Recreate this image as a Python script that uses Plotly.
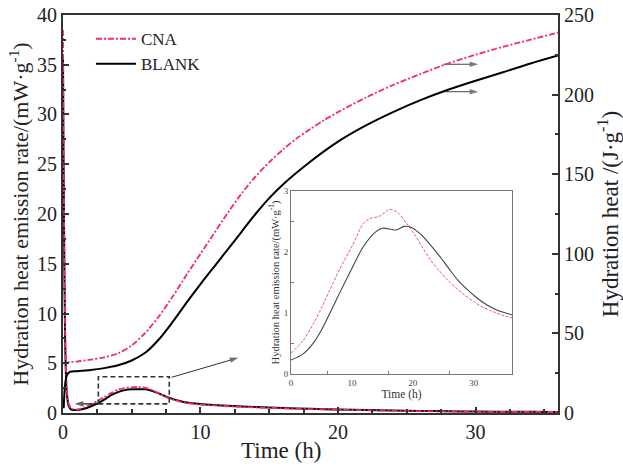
import plotly.graph_objects as go

# ---- main chart data ----
rate_t = [0.0, 0.03, 0.08, 0.15, 0.25, 0.4, 0.6, 0.9, 1.2, 1.6, 2.0, 2.5, 3.0, 3.5, 4.0, 4.5, 5.0,
          5.5, 6.0, 6.5, 7.0, 7.5, 8.0, 8.5, 9.0, 10, 11, 12, 14, 16, 18, 20, 22, 24, 26, 28, 30,
          32, 34, 36]
cna_rate = [38.5, 30, 20, 9, 3, 1.0, 0.45, 0.35, 0.4, 0.6, 0.85, 1.2, 1.6, 2.0, 2.35, 2.5, 2.58,
            2.62, 2.52, 2.3, 1.95, 1.6, 1.35, 1.15, 1.0, 0.85, 0.76, 0.68, 0.56, 0.47, 0.4, 0.33,
            0.28, 0.23, 0.19, 0.16, 0.14, 0.12, 0.11, 0.1]
blank_rate = [36, 28, 18, 8, 2.5, 0.8, 0.35, 0.3, 0.32, 0.45, 0.65, 0.95, 1.35, 1.8, 2.1, 2.3,
              2.38, 2.4, 2.38, 2.2, 1.95, 1.65, 1.4, 1.2, 1.05, 0.9, 0.8, 0.72, 0.6, 0.5, 0.42,
              0.35, 0.3, 0.25, 0.21, 0.18, 0.15, 0.13, 0.12, 0.1]

heat_t = [0.05, 0.1, 0.2, 0.3, 0.5, 1, 2, 3, 4, 5, 6, 7, 8, 9, 10, 11, 12, 13, 14, 15, 16,
          17, 18, 19, 20, 22, 24, 26, 28, 30, 32, 34, 36]
cna_heat = [31.3, 31.5, 31.7, 31.8, 32.0, 32.3, 33.5, 35, 37.5, 42.5, 50.5, 61, 73.5, 87, 100,
            113, 126, 138, 148.5, 157.5, 165.5, 172.5, 178.5, 184, 189, 198, 206, 213, 219.5,
            225, 230, 234.5, 239]
blank_heat = [3, 12, 21, 24, 25.8, 26.3, 27, 28.2, 30, 33, 38, 46.5, 57.5, 69.5, 81, 92, 103,
              114, 125, 135, 143.5, 151, 158, 164.5, 170.5, 180.5, 189, 196.5, 203, 208.7,
              214, 219.5, 224.5]

# ---- inset data ----
ins_t_cna = [0, 2, 3.7, 5, 6.4, 8, 10, 11.9, 13, 14.4, 15.3, 16.2, 17.5, 19, 20.2, 21.5, 22.9,
             24.3, 25.7, 27, 28.4, 30, 31.2, 33, 34.5, 36.3]
ins_cna = [0.34, 0.55, 0.83, 1.08, 1.38, 1.72, 2.09, 2.47, 2.55, 2.58, 2.64, 2.70, 2.65, 2.47,
           2.3, 2.09, 1.87, 1.7, 1.54, 1.42, 1.30, 1.19, 1.11, 1.03, 0.97, 0.92]
ins_t_blank = [0, 2, 3.7, 5, 6.4, 8, 10, 11.9, 13.9, 15, 16.5, 17.3, 18.6, 19.6, 21.2, 22, 23.2,
               24.5, 26, 27.4, 28.9, 30.5, 32.2, 34, 36.3]
ins_blank = [0.23, 0.33, 0.51, 0.72, 1.0, 1.33, 1.73, 2.09, 2.33, 2.39, 2.37, 2.36, 2.42, 2.41,
             2.3, 2.22, 2.08, 1.92, 1.72, 1.54, 1.39, 1.25, 1.13, 1.04, 0.97]

# ---- guide arrows (tail -> head, main time / rate axes) ----
arrow_box_left_t = [2.55, 0.85]
arrow_box_left_v = [0.92, 0.92]
arrow_inset_t = [7.9, 12.75]
arrow_inset_v = [3.59, 5.55]
arrow_cna_t = [27.66, 30.2]
arrow_cna_v = [35.05, 35.05]
arrow_blank_t = [27.66, 30.2]
arrow_blank_v = [32.29, 32.29]

# zoom box around the peaks
box_t = [2.57, 7.73]
box_v = [0.92, 3.65]

x_tickvals = [0, 10, 20, 30]
yl_tickvals = [0, 5, 10, 15, 20, 25, 30, 35, 40]
yr_tickvals = [0, 50, 100, 150, 200, 250]

PINK = "#F2277F"
FONT = "Liberation Serif"
DASHDOT = "6px,2px,2px,2px"

fig = go.Figure()

# legend traces (heat curves)
fig.add_trace(go.Scatter(x=heat_t, y=cna_heat, name="CNA", mode="lines", yaxis="y2",
                         line=dict(color=PINK, width=1.8, dash=DASHDOT, shape="spline",
                                   smoothing=0.8)))
fig.add_trace(go.Scatter(x=heat_t, y=blank_heat, name="BLANK", mode="lines", yaxis="y2",
                         line=dict(color="black", width=2, shape="spline", smoothing=0.8)))
# rate curves
fig.add_trace(go.Scatter(x=rate_t, y=blank_rate, mode="lines", showlegend=False,
                         line=dict(color="black", width=2, shape="spline", smoothing=0.6)))
fig.add_trace(go.Scatter(x=rate_t, y=cna_rate, mode="lines", showlegend=False,
                         line=dict(color=PINK, width=1.8, dash=DASHDOT, shape="spline",
                                   smoothing=0.6)))
# inset curves
fig.add_trace(go.Scatter(x=ins_t_cna, y=ins_cna, mode="lines", showlegend=False,
                         xaxis="x3", yaxis="y3",
                         line=dict(color="#F0509A", width=1, dash="3px,1.5px",
                                   shape="spline", smoothing=0.8)))
fig.add_trace(go.Scatter(x=ins_t_blank, y=ins_blank, mode="lines", showlegend=False,
                         xaxis="x3", yaxis="y3",
                         line=dict(color="#444", width=1.1, shape="spline", smoothing=0.8)))

# arrows
for at, av, col, w in [(arrow_box_left_t, arrow_box_left_v, "#222", 1.3),
                       (arrow_inset_t, arrow_inset_v, "#333", 1.0),
                       (arrow_cna_t, arrow_cna_v, "#444", 1.0),
                       (arrow_blank_t, arrow_blank_v, "#444", 1.0)]:
    fig.add_trace(go.Scatter(x=at, y=av, mode="lines+markers", showlegend=False,
                             hoverinfo="skip", line=dict(color=col, width=w),
                             marker=dict(symbol="arrow", size=[0, 9], angleref="previous",
                                         color=col, line=dict(width=0))))

axis_common = dict(showgrid=False, zeroline=False, showline=True, linecolor="#333",
                   linewidth=2, ticks="inside", tickcolor="#333", tickwidth=1.5,
                   tickfont=dict(family=FONT, size=20, color="#222"))

fig.update_layout(
    width=623, height=471,
    margin=dict(l=0, r=0, t=0, b=0),
    paper_bgcolor="white", plot_bgcolor="white",
    font=dict(family=FONT, color="#222"),
    xaxis=dict(axis_common, domain=[0.1011, 0.8957], range=[0, 36],
               tickvals=x_tickvals, ticklen=6, mirror=True,
               minor=dict(dtick=2.5, tick0=0, ticks="inside", ticklen=4, tickcolor="#333"),
               automargin=False, anchor="y"),
    yaxis=dict(axis_common, domain=[0.1231, 0.9682], range=[0, 40],
               tickvals=yl_tickvals, ticklen=6,
               minor=dict(dtick=2.5, tick0=0, ticks="inside", ticklen=3, tickcolor="#333"),
               title=dict(text="Hydration heat emission rate/(mW·g<sup>-1</sup>)",
                          font=dict(family=FONT, size=22), standoff=2),
               automargin=False),
    yaxis2=dict(axis_common, overlaying="y", side="right", range=[0, 250],
                tickvals=yr_tickvals, ticklen=6,
                minor=dict(dtick=25, tick0=0, ticks="inside", ticklen=3, tickcolor="#333"),
                title=dict(text="Hydration heat /(J·g<sup>-1</sup>)",
                           font=dict(family=FONT, size=23), standoff=4),
                automargin=False, anchor="x"),
    xaxis3=dict(domain=[0.4671, 0.8218], range=[0, 36.3], anchor="y3",
                showgrid=False, zeroline=False, showline=True, mirror=True,
                linecolor="#777", linewidth=1,
                tickvals=[0, 10, 20, 30], ticks="",
                minor=dict(tickvals=[6, 16, 26], ticks="inside", ticklen=3, tickcolor="#777"),
                tickfont=dict(family=FONT, size=9, color="#444"),
                title=dict(text="Time (h)", font=dict(family=FONT, size=11.5, color="#333"),
                           standoff=1),
                automargin=False),
    yaxis3=dict(domain=[0.2059, 0.5945], range=[0, 3], anchor="x3",
                showgrid=False, zeroline=False, showline=True, mirror=True,
                linecolor="#777", linewidth=1,
                tickvals=[0, 1, 2, 3], ticks="",
                minor=dict(tickvals=[0.5, 1.5, 2.5], ticks="inside", ticklen=3,
                           tickcolor="#777"),
                tickfont=dict(family=FONT, size=9, color="#444"),
                title=dict(text="Hydration heat emission rate/(mW·g<sup>-1</sup>)",
                           font=dict(family=FONT, size=10.5, color="#333"), standoff=2),
                automargin=False),
    legend=dict(x=0.146, y=0.955, xanchor="left", yanchor="top",
                bgcolor="rgba(0,0,0,0)", font=dict(family=FONT, size=17, color="#222"),
                itemwidth=40, tracegroupgap=0),
    shapes=[dict(type="rect", xref="x", yref="y", x0=box_t[0], x1=box_t[1],
                 y0=box_v[0], y1=box_v[1],
                 line=dict(color="#333", width=1.6, dash="5px,3px"))],
    annotations=[dict(text="Time (h)", xref="paper", yref="paper", x=0.451, y=0.044,
                      xanchor="center", yanchor="middle", showarrow=False,
                      font=dict(family=FONT, size=23, color="#222"))],
)

fig.write_html("out.html")
